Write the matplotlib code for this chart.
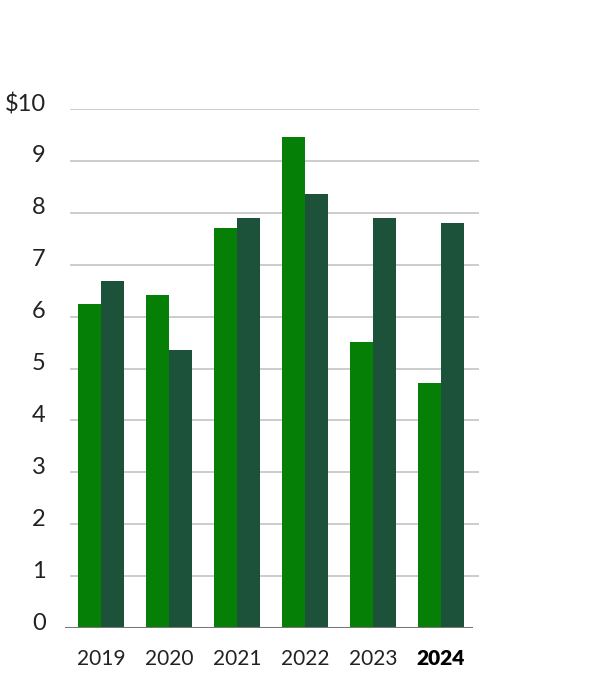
import matplotlib
matplotlib.use("Agg")
import numpy as np
from matplotlib import pyplot as plt
from matplotlib.transforms import ScaledTranslation

years = ["2019", "2020", "2021", "2022", "2023", "2024"]
series_a = [6.24, 6.42, 7.71, 9.46, 5.51, 4.72]
series_b = [6.69, 5.36, 7.90, 8.36, 7.90, 7.80]
y_ticks = [0, 1, 2, 3, 4, 5, 6, 7, 8, 9, 10]
y_labels = ["0", "1", "2", "3", "4", "5", "6", "7", "8", "9", "$10"]

plt.rcParams["font.family"] = ["Lato", "DejaVu Sans"]

fig = plt.figure(figsize=(6, 7), dpi=100)
# axes box in pixels: left 65, right 479, bottom 628, top 109
ax = fig.add_axes([65 / 600, 1 - 628 / 700, 414 / 600, 519 / 700])

x = np.arange(len(years))
w = 0.335
ax.bar(x - w / 2, series_a, width=w, color="#067f06", zorder=3)
ax.bar(x + w / 2, series_b, width=w, color="#1d523a", zorder=3)

for t in y_ticks[1:]:
    ax.axhline(t, xmin=0.0145, xmax=1.0, color="#c4c4c4", lw=1.2, zorder=1)
ax.axhline(0, xmin=0.0, xmax=0.983, color="#777777", lw=1.5, zorder=4)

ax.set_xlim(-0.529, 5.559)
ax.set_ylim(0, 10)
for s in ax.spines.values():
    s.set_visible(False)

ax.set_yticks(y_ticks)
ax.set_yticklabels(y_labels, fontsize=17, color="#222222")
ax.tick_params(axis="y", length=0, pad=14)
for lab in ax.get_yticklabels():
    lab.set_transform(lab.get_transform() + ScaledTranslation(0, 7 / 100, fig.dpi_scale_trans))

ax.set_xticks(x)
ax.set_xticklabels(years, fontsize=15, color="#222222")
ax.tick_params(axis="x", length=0, pad=15)
ax.get_xticklabels()[-1].set_fontweight("heavy")
ax.get_xticklabels()[-1].set_color("black")

fig.savefig("out.png", dpi=100)
